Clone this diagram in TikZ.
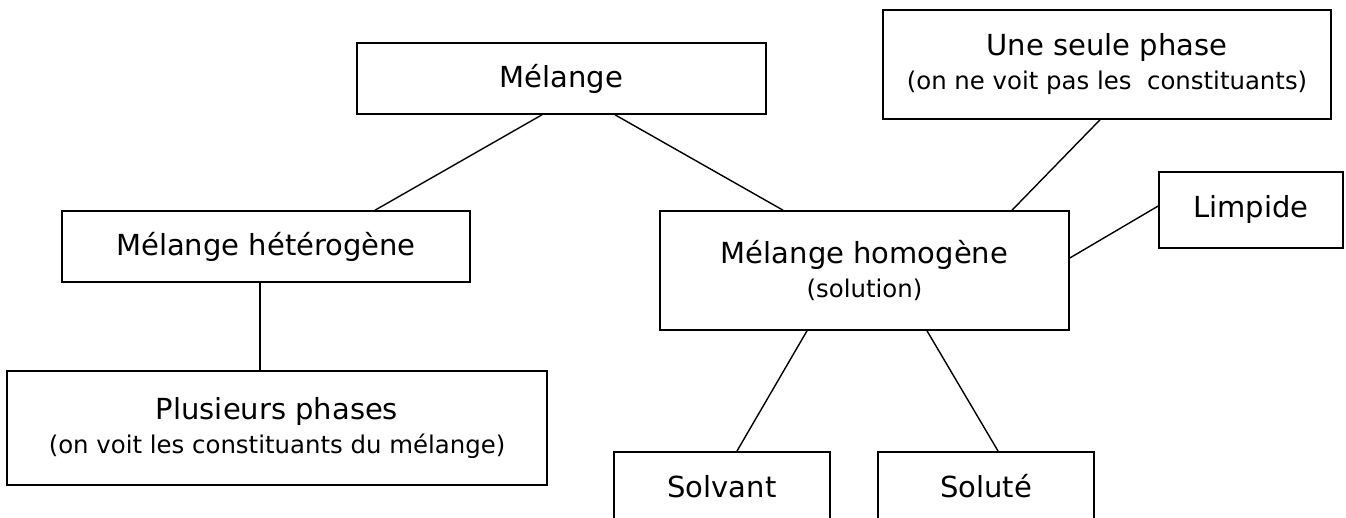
\documentclass[tikz,border=0pt]{standalone}
\usepackage{fontspec}
\setmainfont{DejaVu Sans}
\usetikzlibrary{calc}
\newcommand{\mainsz}{\fontsize{29}{34}\selectfont}
\newcommand{\subsz}{\fontsize{24.4}{31}\selectfont}
\begin{document}
\begin{tikzpicture}[x=1pt,y=-1pt,
  box/.style={draw=black,line width=1.6pt,rectangle,inner sep=0pt,align=center,font=\mainsz},
  link/.style={draw=black,line width=1.4pt}]
\useasboundingbox[fill=white] (0,0) rectangle (1346,518);
\node[box,minimum width=409pt,minimum height=71pt] (melange) at (561.5,78.5) {Mélange};
\node[box,minimum width=408pt,minimum height=71pt] (het) at (266,246.5) {Mélange hétérogène};
\node[box,minimum width=409pt,minimum height=119pt] (hom) at (864.5,270.5) {Mélange homogène\\[0pt]{\subsz (solution)}};
\node[box,minimum width=448pt,minimum height=109pt] (une) at (1107,64.5) {Une seule phase\\[0pt]{\subsz (on ne voit pas les~ constituants)}};
\node[box,minimum width=184pt,minimum height=76pt] (limpide) at (1251,210) {Limpide};
\node[box,minimum width=540pt,minimum height=114pt] (plus) at (277,428) {Plusieurs phases\\[0pt]{\subsz (on voit les constituants du mélange)}};
\node[box,minimum width=216pt,minimum height=80pt,inner ysep=25pt,text height=21pt,text depth=9pt,anchor=north] (solvant) at (722,451) {Solvant};
\node[box,minimum width=216pt,minimum height=80pt,inner ysep=25pt,text height=21pt,text depth=9pt,anchor=north] (solute) at (986,451) {Soluté};
\draw[link] ([xshift=-19.5pt]melange.south) -- ([xshift=109pt]het.north);
\draw[link] ([xshift=53.5pt]melange.south) -- ([xshift=-81.5pt]hom.north);
\draw[link] ([xshift=-6pt]het.south) -- ([xshift=-17pt]plus.north);
\draw[link] ([xshift=147.5pt]hom.north) -- ([xshift=-7pt]une.south);
\draw[link] ([yshift=12.5pt]hom.east) -- ([yshift=4pt]limpide.west);
\draw[link] ([xshift=-57.5pt]hom.south) -- ([xshift=15pt]solvant.north);
\draw[link] ([xshift=62.5pt]hom.south) -- ([xshift=12pt]solute.north);
\end{tikzpicture}
\end{document}
